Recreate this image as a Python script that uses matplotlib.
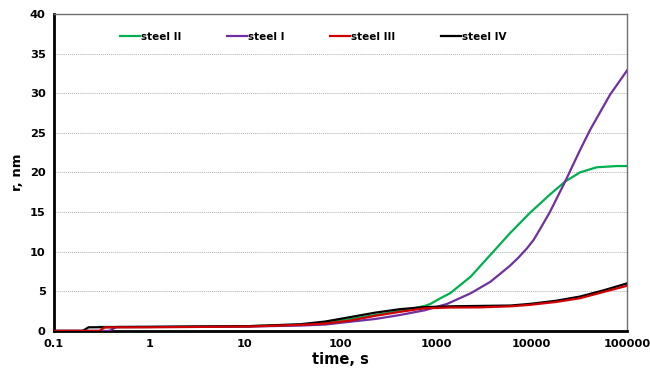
import matplotlib.pyplot as plt

plt.rcParams['font.family'] = ['DejaVu Sans']
plt.rcParams['font.weight'] = 'bold'

# time (s) and precipitate radius (nm) for each steel
t_II = [0.3, 1, 3.4, 11, 38, 69, 125, 230, 417, 760, 870, 1100, 1400, 2300,
        3700, 5900, 9500, 15500, 22400, 32000, 48000, 78000, 100000]
r_II = [0.5, 0.5, 0.55, 0.6, 0.78, 1.05, 1.47, 2.0, 2.5, 3.15, 3.4, 4.1, 4.75, 6.85,
        9.6, 12.3, 14.85, 17.2, 18.85, 20.0, 20.65, 20.8, 20.8]

t_I = [0.1, 0.38, 0.45, 1, 3.4, 11, 38, 69, 125, 230, 417, 760, 1300, 2300,
       3700, 5900, 7200, 8900, 10500, 12300, 15500, 22400, 32000, 41000, 66000, 100000]
r_I = [0.0, 0.0, 0.5, 0.5, 0.52, 0.55, 0.67, 0.8, 1.15, 1.5, 2.0, 2.6, 3.4, 4.75,
       6.2, 8.2, 9.2, 10.4, 11.5, 12.9, 15.0, 18.85, 22.8, 25.4, 29.8, 32.9]

t_III = [0.1, 0.3, 0.34, 1, 3.4, 11, 38, 69, 125, 230, 417, 760, 1400, 2900,
         6000, 9500, 18000, 32000, 56000, 100000]
r_III = [0.0, 0.0, 0.45, 0.45, 0.5, 0.55, 0.76, 0.92, 1.3, 1.9, 2.4, 2.85, 2.95, 2.97,
         3.1, 3.28, 3.65, 4.12, 4.9, 5.7]

t_IV = [0.1, 0.2, 0.23, 1, 3.4, 11, 38, 69, 125, 230, 417, 760, 1400, 2900,
        6000, 9500, 18000, 32000, 56000, 100000]
r_IV = [0.0, 0.0, 0.45, 0.5, 0.55, 0.6, 0.84, 1.18, 1.73, 2.3, 2.74, 3.0, 3.1, 3.15,
        3.2, 3.4, 3.8, 4.33, 5.1, 6.0]

x_ticks = [0.1, 1, 10, 100, 1000, 10000, 100000]
x_labels = ['0.1', '1', '10', '100', '1000', '10000', '100000']

fig = plt.figure(figsize=(6.5, 3.76), dpi=100)
ax = fig.add_axes([0.083, 0.12, 0.882, 0.843])

ax.plot(t_II, r_II, color='#00B050', lw=1.6, label='steel II', zorder=3)
ax.plot(t_I, r_I, color='#7030A0', lw=1.6, label='steel I', zorder=3)
ax.plot(t_III, r_III, color='#D00000', lw=1.6, label='steel III', zorder=4)
ax.plot(t_IV, r_IV, color='black', lw=1.6, label='steel IV', zorder=3)

ax.set_xscale('log')
ax.set_xlim(0.1, 100000)
ax.set_ylim(0, 40)
ax.set_xticks(x_ticks)
ax.set_xticklabels(x_labels)
ax.minorticks_off()
ax.set_yticks(range(0, 41, 5))
ax.tick_params(length=0, labelsize=8.2, pad=6)

ax.grid(axis='y', color='#b0b0b0', linestyle=(0, (1, 1)), linewidth=0.7)
ax.set_axisbelow(True)

for side in ['left', 'bottom']:
    ax.spines[side].set_linewidth(2)
    ax.spines[side].set_color('black')
for side in ['right', 'top']:
    ax.spines[side].set_linewidth(1)
    ax.spines[side].set_color('#707070')

ax.set_xlabel('time, s', fontsize=10.5, fontweight='bold', labelpad=2)
ax.set_ylabel('r, nm', fontsize=9.5, fontweight='bold', labelpad=4)

ax.legend(loc='center left', bbox_to_anchor=(0.115, 0.927), ncol=4, frameon=False,
          handlelength=1.9, handletextpad=0.1, columnspacing=4.4,
          borderpad=0, borderaxespad=0,
          prop={'weight': 'bold', 'size': 7.5})

fig.savefig('out.png', dpi=100)
